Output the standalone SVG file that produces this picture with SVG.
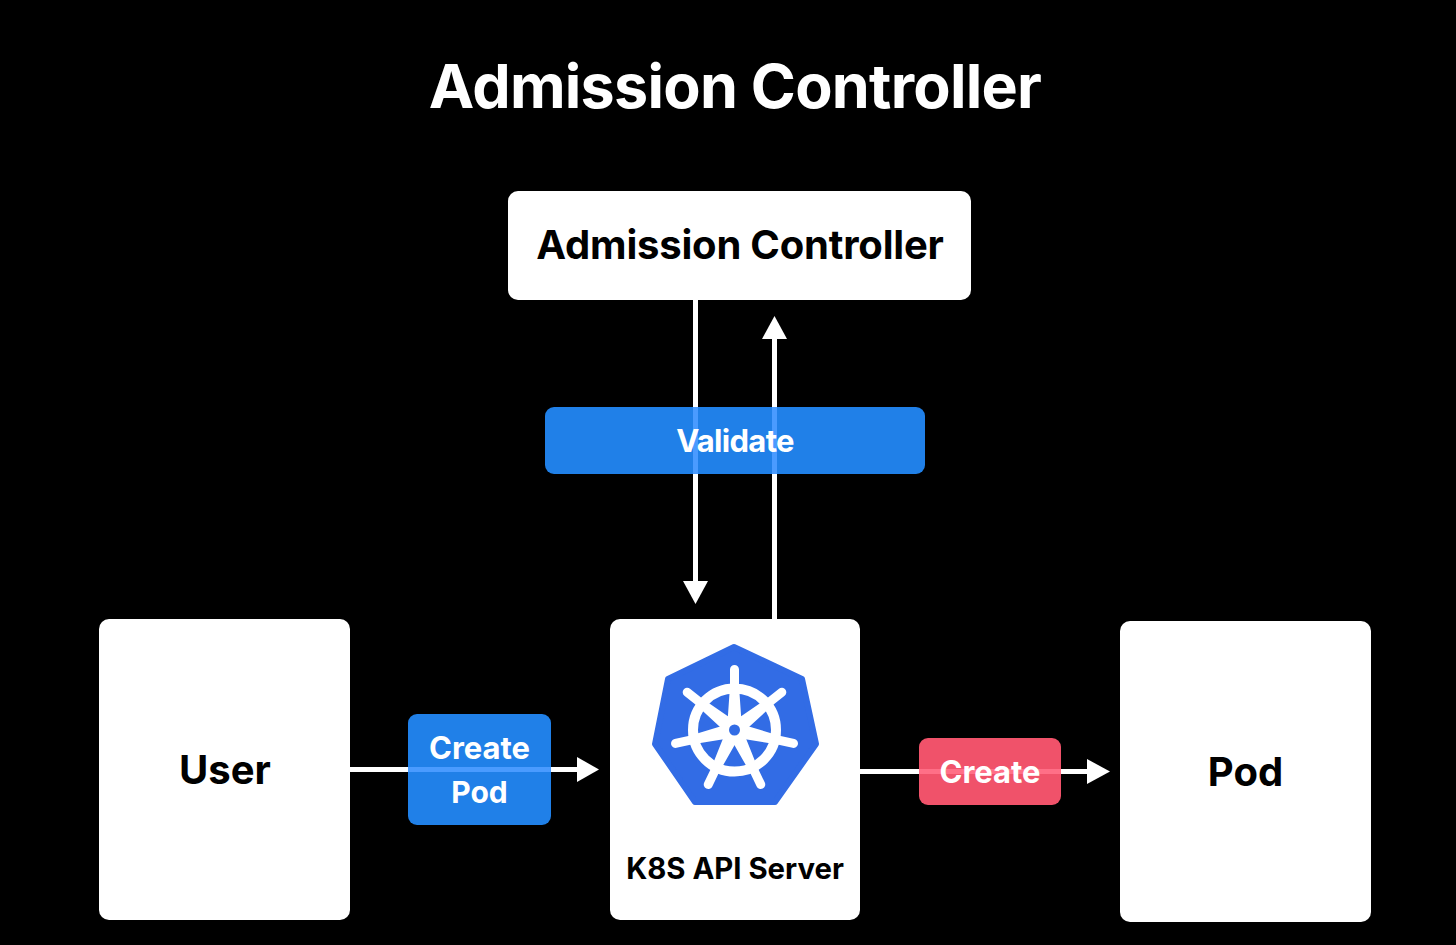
<svg xmlns="http://www.w3.org/2000/svg" width="1456" height="945" viewBox="0 0 1456 945">
<style>
text{font-family:Inter,"Liberation Sans",sans-serif;font-weight:700;text-anchor:middle}
.box{fill:#fff}
.dark{fill:#000;font-size:40px}
.lbl{fill:#fff;font-size:31px}
.blue{fill:#2080e8}
.red{fill:#f0526a}
.conn{stroke:#fff;stroke-width:5;fill:none}
.head{fill:#fff}
.thruB{fill:#4a9bff}
.thruR{fill:#ff6f87}
.w{stroke:#fff;fill:none}
.s{fill:#fff}
</style>
<defs><path id="spoke" d="M-7 -8L-4.500 -44V-60.500A4.500 4.500 0 0 1 4.500 -60.500V-44L7 -8Z"/></defs>
<rect width="1456" height="945" fill="#000"/>
<text id="title" x="735" y="108" fill="#fff" font-size="61" letter-spacing="-0.750">Admission Controller</text>
<g id="connectors">
<path class="conn" d="M695.500 300V582"/><polygon class="head" points="683,581 708,581 695.500,604"/>
<path class="conn" d="M774.500 619V338"/><polygon class="head" points="762,339 787,339 774.500,316"/>
<path class="conn" d="M350 769.500H578"/><polygon class="head" points="577,757 577,782 599,769.500"/>
<path class="conn" d="M860 771.500H1088"/><polygon class="head" points="1087,759 1087,784 1110,771.500"/>
</g>
<g id="admission-controller"><rect class="box" x="508" y="191" width="463" height="109" rx="10"/><text class="dark" x="740" y="259" letter-spacing="-0.200">Admission Controller</text></g>
<g id="user"><rect class="box" x="99" y="619" width="251" height="301" rx="10"/><text class="dark" x="225" y="784">User</text></g>
<g id="pod"><rect class="box" x="1120" y="621" width="251" height="301" rx="10"/><text class="dark" x="1245.500" y="786">Pod</text></g>
<g id="api-server"><rect class="box" x="610" y="619" width="250" height="301" rx="10"/>
<polygon points="734,647 802,679 816,744 775,802 695,802 655,744 668,679" fill="#326ce5" stroke="#326ce5" stroke-width="6" stroke-linejoin="round"/>
<g transform="translate(734.500 730)">
<circle class="w" r="41.500" stroke-width="10"/>
<g class="s">
<use href="#spoke"/>
<use href="#spoke" transform="rotate(51.430)"/>
<use href="#spoke" transform="rotate(102.860)"/>
<use href="#spoke" transform="rotate(154.290)"/>
<use href="#spoke" transform="rotate(205.710)"/>
<use href="#spoke" transform="rotate(257.140)"/>
<use href="#spoke" transform="rotate(308.570)"/>
</g>
<circle r="15" fill="#fff"/>
<circle r="5.500" fill="#326ce5"/>
</g>
<text x="735" y="879" fill="#000" font-size="29.300">K8S API Server</text></g>
<g id="validate"><rect class="blue" x="545" y="407" width="380" height="67" rx="9"/><rect class="thruB" x="693" y="407" width="5" height="67"/><rect class="thruB" x="772" y="407" width="5" height="67"/><text class="lbl" x="735" y="452" letter-spacing="-0.700">Validate</text></g>
<g id="create-pod"><rect class="blue" x="408" y="714" width="143" height="111" rx="9"/><rect class="thruB" x="408" y="767" width="143" height="5"/><text class="lbl" x="479.500" y="759">Create</text><text class="lbl" x="479.500" y="803" style="font-size:30px">Pod</text></g>
<g id="create"><rect class="red" x="919" y="738" width="142" height="67" rx="9"/><rect class="thruR" x="919" y="769" width="142" height="5"/><text class="lbl" x="990" y="783">Create</text></g>
</svg>
